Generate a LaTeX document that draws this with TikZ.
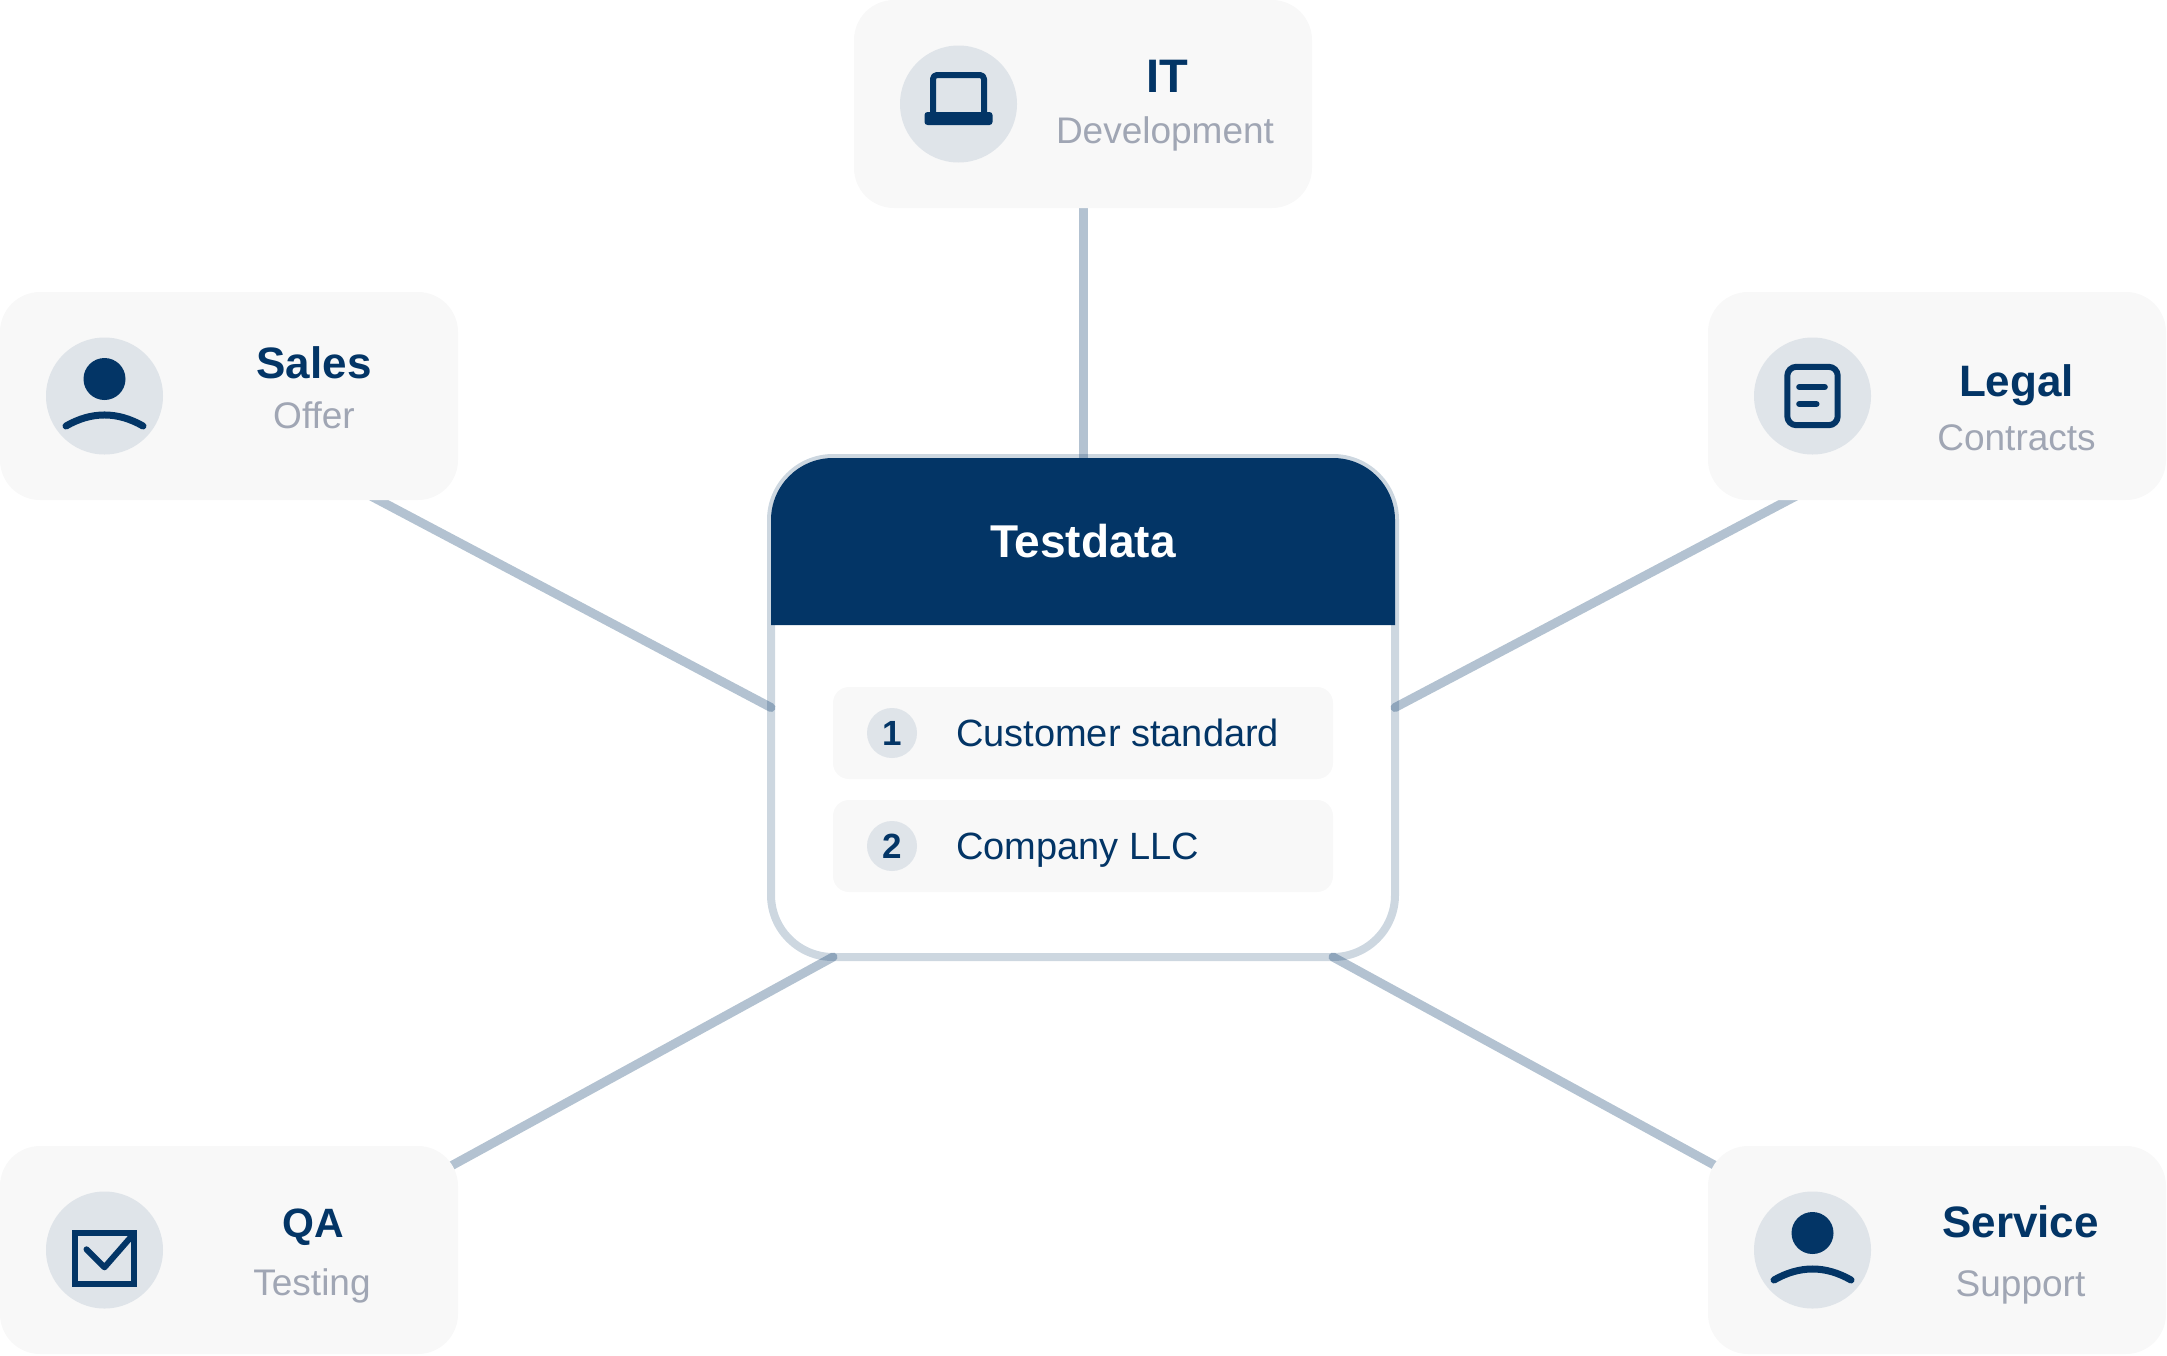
\documentclass[tikz,border=0pt]{standalone}
\usepackage{fontspec}
\setmainfont{Liberation Sans}
\usetikzlibrary{backgrounds,positioning}
\definecolor{navy}{HTML}{033566}
\definecolor{boxgray}{HTML}{F8F8F8}
\definecolor{dotgray}{HTML}{DFE4E9}
\definecolor{subgray}{HTML}{A0A6B4}

\begin{document}
\begin{tikzpicture}[
    x=1pt,
    y=1pt,
    every node/.style={outer sep=0pt, inner sep=0pt},
    card/.style={
        draw=navy,
        draw opacity=0.2,
        line width=8pt,
        rounded corners=62pt,
        minimum width=624pt,
        minimum height=499pt
    },
    headbox/.style={
        minimum width=624pt,
        minimum height=167pt,
        text=white,
        font=\fontsize{46}{55}\selectfont\bfseries
    },
    rowbox/.style={
        fill=boxgray,
        rounded corners=16pt,
        minimum width=500pt,
        minimum height=92pt
    },
    rownum/.style={
        circle,
        fill=dotgray,
        minimum size=50pt,
        text=navy,
        font=\fontsize{35}{42}\selectfont\bfseries
    },
    rowtext/.style={
        anchor=base west,
        text=navy,
        font=\fontsize{38}{46}\selectfont
    },
    dept/.style={
        fill=boxgray,
        rounded corners=40pt,
        minimum width=458pt,
        minimum height=208pt
    },
    deptdot/.style={
        circle,
        fill=dotgray,
        minimum size=117pt
    },
    deptname/.style={
        anchor=base,
        text=navy,
        font=\fontsize{44}{53}\selectfont\bfseries
    },
    deptrole/.style={
        anchor=base,
        text=subgray,
        font=\fontsize{37}{44}\selectfont
    },
    link/.style={
        draw=navy,
        draw opacity=0.3,
        line width=9pt,
        line cap=round
    },
    icon/.style={
        draw=navy,
        line width=6pt,
        line cap=round,
        line join=round
    },
    person/.pic={
        \fill[navy] (0,17) circle (21);
        \draw[icon, line width=7pt] (-38.5,-30) .. controls (-13,-15.3) and (13,-15.3) .. (38.5,-30);
    }
]
    \useasboundingbox (0,0) rectangle (2167,-1355);

    %% Testdata card
    \node[card] (card) at (1083,-707.5) {};
    \node[headbox, below=0pt of card.north] (head) {Testdata};
    \node[rowbox, below=62pt of head] (row1) {};
    \node[rowbox, below=21pt of row1] (row2) {};
    \node[rownum, right=34pt of row1.west] (num1) {1};
    \node[rownum, right=34pt of row2.west] (num2) {2};
    \node[rowtext] (text1) at ([xshift=39pt,yshift=-13pt]num1.east) {Customer standard};
    \node[rowtext] (text2) at ([xshift=39pt,yshift=-13pt]num2.east) {Company LLC};

    %% Departments
    \node[dept, above=250pt of card] (itbox) {};
    \node[dept, above left=-42pt and 313pt of card.north west] (salesbox) {};
    \node[dept, above right=-42pt and 313pt of card.north east] (legalbox) {};
    \node[dept, below left=189pt and 313pt of card.south west] (qabox) {};
    \node[dept, below right=189pt and 313pt of card.south east] (svcbox) {};

    %% Texts
    \node[deptname, font=\fontsize{47}{56}\selectfont\bfseries] (itname) at ([shift={(84,12)}]itbox.center) {IT};
    \node[deptrole] (itrole) at ([shift={(82,-39)}]itbox.center) {Development};
    \node[deptname] (salesname) at ([shift={(85,17.5)}]salesbox.center) {Sales};
    \node[deptrole] (salesrole) at ([shift={(85,-32.5)}]salesbox.center) {Offer};
    \node[deptname] (legalname) at ([shift={(79.5,-0.5)}]legalbox.center) {Legal};
    \node[deptrole] (legalrole) at ([shift={(79.5,-54.5)}]legalbox.center) {Contracts};
    \node[deptname, font=\fontsize{41}{49}\selectfont\bfseries] (qaname) at ([shift={(84,13)}]qabox.center) {QA};
    \node[deptrole] (qarole) at ([shift={(83,-45)}]qabox.center) {Testing};
    \node[deptname] (svcname) at ([shift={(83.5,13)}]svcbox.center) {Service};
    \node[deptrole] (svcrole) at ([shift={(83.5,-46)}]svcbox.center) {Support};

    %% Icons
    \node[deptdot, right=46pt of itbox.west] (itdot) {};
    \node[deptdot, right=46pt of salesbox.west] (salesdot) {};
    \node[deptdot, right=46pt of legalbox.west] (legaldot) {};
    \node[deptdot, right=46pt of qabox.west] (qadot) {};
    \node[deptdot, right=46pt of svcbox.west] (svcdot) {};

    \pic at (salesdot) {person};
    \pic at (svcdot) {person};

    \begin{scope}[shift={(itdot)}]
        \draw[icon, rounded corners=4pt] (-25.5,-12) -- (-25.5,29) -- (25.5,29) -- (25.5,-12);
        \fill[navy, rounded corners=3pt] (-34,-8) rectangle (34,-21);
    \end{scope}
    \begin{scope}[shift={(legaldot)}]
        \draw[icon, rounded corners=9pt] (-25.2,-29.2) rectangle (25.2,29.2);
        \draw[icon] (-13.3,9) -- (12.3,9);
        \draw[icon] (-13.3,-8) -- (4,-8);
    \end{scope}
    \begin{scope}[shift={(qadot)}]
        \draw[icon, line join=miter] (-29.5,-33.7) rectangle (29.5,17);
        \draw[icon] (-18,0.7) -- (0,-17.3) -- (26.7,13.3);
    \end{scope}

    %% Connectors
    \begin{scope}[on background layer]
        \draw[link] (itbox.south) -- (card.north);
        \draw[link] ([xshift=140pt,yshift=5pt]salesbox.south) -- (card.west);
        \draw[link] ([xshift=-139pt,yshift=5pt]legalbox.south) -- (card.east);
        \draw[link] ([shift={(-18,-26)}]qabox.north east) -- (row2.west |- card.south);
        \draw[link] ([shift={(19,-26)}]svcbox.north west) -- (row2.east |- card.south);
        \fill[navy] (head.south west) [rounded corners=62pt] -- (head.north west) -- (head.north east) [sharp corners] -- (head.south east) -- cycle;
    \end{scope}
\end{tikzpicture}
\end{document}
